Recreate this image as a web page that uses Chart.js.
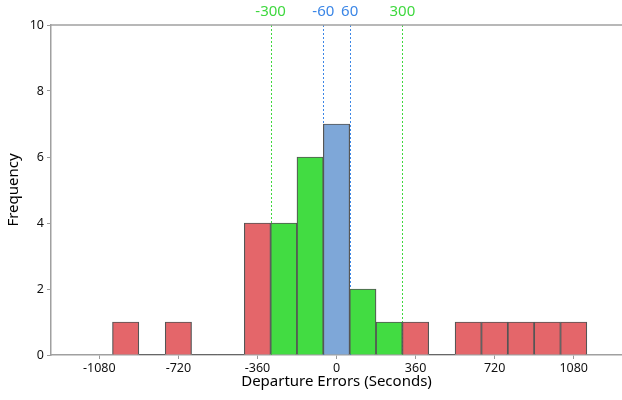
<!DOCTYPE html>
<html>
<head>
<meta charset="utf-8">
<script src="https://cdn.jsdelivr.net/npm/chart.js@4/dist/chart.umd.min.js"></script>
<style>
html,body{margin:0;padding:0;background:#fff;}
#wrap{width:622px;height:400px;position:relative;}
</style>
</head>
<body>
<div id="wrap"><canvas id="c" width="622" height="400"></canvas></div>
<script>
// Bin centers (seconds), bins are 120 s wide
const binCenters = [-960, -840, -720, -600, -480, -360, -240, -120, 0, 120, 240, 360, 480, 600, 720, 840, 960, 1080];
const frequencies = [1, 0, 1, 0, 0, 4, 4, 6, 7, 2, 1, 1, 0, 1, 1, 1, 1, 1];
const binGroups =   ['r','r','r','r','r','r','g','g','b','g','g','r','r','r','r','r','r','r'];
const xTickValues = [-1080, -720, -360, 0, 360, 720, 1080];
const yTickValues = [0, 2, 4, 6, 8, 10];
const refLines = [-300, -60, 60, 300];
const refLineLabels = ['-300', '-60', '60', '300'];
const refLineGroups = ['g', 'b', 'b', 'g'];

const fillColors = {r: '#E4666A', g: '#42DC42', b: '#7EA7D8'};
const lineColors = {g: '#3FD83F', b: '#3B86E6'};
const FONT = '"Noto Sans", "Open Sans", sans-serif';

const refLinesPlugin = {
  id: 'refLines',
  beforeDatasetsDraw(chart) {
    const {ctx, chartArea, scales} = chart;
    ctx.save();
    ctx.lineWidth = 1;
    ctx.setLineDash([2, 2]);
    refLines.forEach((v, i) => {
      const x = Math.round(scales.x.getPixelForValue(v)) + 0.5;
      ctx.strokeStyle = lineColors[refLineGroups[i]];
      ctx.beginPath();
      ctx.moveTo(x, chartArea.top);
      ctx.lineTo(x, chartArea.bottom);
      ctx.stroke();
    });
    ctx.restore();
  },
  afterDatasetsDraw(chart) {
    const {ctx, chartArea, scales} = chart;
    ctx.save();
    ctx.strokeStyle = '#A0A0A0';
    ctx.lineWidth = 1.5;
    ctx.beginPath();
    ctx.moveTo(chartArea.left, chartArea.top);
    ctx.lineTo(chartArea.right, chartArea.top);
    ctx.stroke();
    const meta = chart.getDatasetMeta(0);
    ctx.strokeStyle = '#666';
    ctx.lineWidth = 1;
    meta.data.forEach((bar, i) => {
      if (frequencies[i] === 0) {
        const w = bar.width;
        ctx.beginPath();
        ctx.moveTo(bar.x - w / 2, chartArea.bottom - 0.5);
        ctx.lineTo(bar.x + w / 2, chartArea.bottom - 0.5);
        ctx.stroke();
      }
    });
    ctx.font = '15px ' + FONT;
    ctx.textAlign = 'center';
    ctx.textBaseline = 'middle';
    refLines.forEach((v, i) => {
      const x = scales.x.getPixelForValue(v);
      ctx.fillStyle = lineColors[refLineGroups[i]];
      ctx.fillText(refLineLabels[i], x, 12);
    });
    ctx.restore();
  }
};

new Chart(document.getElementById('c'), {
  type: 'bar',
  data: {
    datasets: [{
      data: binCenters.map((x, i) => ({x: x, y: frequencies[i]})),
      backgroundColor: binGroups.map(g => fillColors[g]),
      borderColor: '#555555',
      borderWidth: 1.2,
      barPercentage: 1,
      categoryPercentage: 1
    }]
  },
  options: {
    responsive: false,
    animation: false,
    devicePixelRatio: 1,
    layout: {padding: {top: 25, right: 0, left: 0, bottom: 0}},
    plugins: {legend: {display: false}, tooltip: {enabled: false}},
    scales: {
      x: {
        type: 'linear',
        min: -1300,
        max: 1300,
        offset: false,
        afterBuildTicks(scale) { scale.ticks = xTickValues.map(v => ({value: v})); },
        afterFit(scale) { scale.height = 45; },
        grid: {display: true, offset: false, drawOnChartArea: false, drawTicks: true, tickLength: 4, color: '#999', lineWidth: 1},
        border: {display: true, color: '#A0A0A0', width: 1.5},
        ticks: {color: '#111', font: {family: FONT, size: 12.5}, padding: 2, maxRotation: 0, autoSkip: false, callback: v => String(v)},
        title: {display: true, text: 'Departure Errors (Seconds)', color: '#000', font: {family: FONT, size: 15}, padding: {top: 0, bottom: 9}}
      },
      y: {
        min: 0,
        max: 10,
        afterBuildTicks(scale) { scale.ticks = yTickValues.map(v => ({value: v})); },
        afterFit(scale) { scale.width = 51; },
        grid: {display: true, drawOnChartArea: false, drawTicks: true, tickLength: 4, color: '#999', lineWidth: 1},
        border: {display: true, color: '#A0A0A0', width: 1.5},
        ticks: {color: '#111', font: {family: FONT, size: 12.5}, padding: 3, callback: v => String(v)},
        title: {display: true, text: 'Frequency', color: '#000', font: {family: FONT, size: 15}, padding: {top: 5, bottom: 0}}
      }
    }
  },
  plugins: [refLinesPlugin]
});
</script>
</body>
</html>
